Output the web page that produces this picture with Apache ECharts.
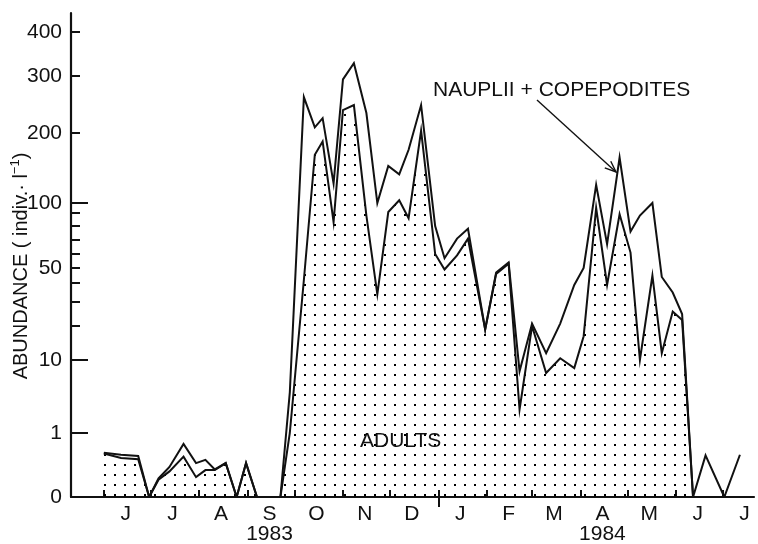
<!DOCTYPE html>
<html>
<head>
<meta charset="utf-8">
<script src="https://cdn.jsdelivr.net/npm/echarts@6/dist/echarts.min.js"></script>
<style>
  html, body { margin: 0; padding: 0; background: #fff; }
  #chart { width: 758px; height: 544px; }
</style>
</head>
<body>
<div id="chart"></div>
<script>
// Sampling dates, June 1983 - July 1984
const sampleDates = [
  '1983-06-01','1983-06-12','1983-06-23','1983-06-30','1983-07-06','1983-07-13','1983-07-22','1983-07-30',
  '1983-08-05','1983-08-11','1983-08-18','1983-08-25','1983-08-31','1983-09-07','1983-09-14','1983-09-22',
  '1983-09-28','1983-10-07','1983-10-14','1983-10-19','1983-10-26','1983-11-01','1983-11-08','1983-11-16',
  '1983-11-23','1983-11-30','1983-12-07','1983-12-13','1983-12-21','1983-12-30','1984-01-05','1984-01-13',
  '1984-01-20','1984-01-31','1984-02-07','1984-02-15','1984-02-22','1984-03-01','1984-03-10','1984-03-19',
  '1984-03-28','1984-04-03','1984-04-11','1984-04-18','1984-04-26','1984-05-03','1984-05-09','1984-05-17',
  '1984-05-23','1984-05-30','1984-06-05','1984-06-12','1984-06-20','1984-07-02','1984-07-12'
];

// Adults + nauplii + copepodites (indiv. per litre)
const totalAbundance = [
  0.69, 0.66, 0.64, 0, 0.29, 0.47, 0.83, 0.53,
  0.58, 0.43, 0.53, 0, 0.53, 0, 0, 0,
  6, 263, 210, 226, 128, 294, 329, 235,
  100, 153, 141, 176, 249, 80, 57, 71,
  78, 19, 47, 54, 8.6, 21, 12, 21,
  39, 50, 126, 67, 165, 76, 88, 100,
  44, 35, 25, 0, 0.65, 0, 0.66
];

// Adults only (indiv. per litre)
const adultAbundance = [
  0.68, 0.61, 0.59, 0, 0.27, 0.40, 0.63, 0.31,
  0.42, 0.42, 0.53, 0, 0.53, 0, 0, 0,
  1.0, 42, 169, 188, 83, 240, 249, 88,
  34, 91, 104, 86, 204, 60, 49, 59,
  71, 19, 46, 53, 3.9, 20, 8.4, 10.5,
  9, 17, 95, 39, 89, 61, 10, 45,
  12, 26, 22.5, 0, 0, 0, 0
];

// Ordinate tick values
const yLabelValues = [0, 1, 10, 50, 100, 200, 300, 400];
const yLongTicks = [1, 10, 100];
const yShortTicks = [20, 30, 40, 50, 60, 70, 80, 90, 200, 300, 400];

// Abscissa labels
const monthLetters = ['J', 'F', 'M', 'A', 'M', 'J', 'J', 'A', 'S', 'O', 'N', 'D'];
const yearUnderMonth = { '1983-8': '1983', '1984-3': '1984' };

// The ordinate is stretched: each break value sits at a fixed height on a 0-484 axis, linear in between
const SCALE_BREAKS = [
  [0, 0], [1, 64], [10, 137], [20, 171], [30, 195], [40, 214], [50, 229], [60, 243],
  [70, 257], [80, 271], [90, 284], [100, 294], [200, 364], [300, 421], [400, 465]
];
const SCALE_TOP = 484;

function toScale(v) {
  for (let i = 1; i < SCALE_BREAKS.length; i++) {
    const [v0, h0] = SCALE_BREAKS[i - 1];
    const [v1, h1] = SCALE_BREAKS[i];
    if (v <= v1 || i === SCALE_BREAKS.length - 1) {
      return h0 + (h1 - h0) * (v - v0) / (v1 - v0);
    }
  }
  return 0;
}

const FONT = '"Liberation Sans", Arial, sans-serif';
const INK = '#111';

const ts = sampleDates.map(d => Date.parse(d));
const xMin = Date.parse('1983-05-11');
const xMax = Date.parse('1984-07-21');

const monthStarts = [];
const monthMids = [];
for (let k = 0; k < 14; k++) {
  const y = 1983 + Math.floor((5 + k) / 12);
  const m = (5 + k) % 12;
  monthStarts.push(Date.UTC(y, m, 1));
  monthMids.push(Date.UTC(y, m, 15));
}
const yearStart = Date.UTC(1984, 0, 1);

const labelKey = {};
yLabelValues.forEach(v => { labelKey[toScale(v).toFixed(3)] = String(v); });

// Stipple used for the adult fraction
const dots = document.createElement('canvas');
dots.width = 10; dots.height = 10;
const dctx = dots.getContext('2d');
dctx.fillStyle = '#000';
dctx.fillRect(4, 4, 2, 2);

const chart = echarts.init(document.getElementById('chart'), null, { renderer: 'canvas' });

// Arrow from the label to the total curve
const arrowFrom = [537, 100];
const arrowTo = [616, 172];
const ang = Math.atan2(arrowTo[1] - arrowFrom[1], arrowTo[0] - arrowFrom[0]);
const headLen = 12, headSpread = 0.38;
const barbA = [arrowTo[0] - headLen * Math.cos(ang - headSpread), arrowTo[1] - headLen * Math.sin(ang - headSpread)];
const barbB = [arrowTo[0] - headLen * Math.cos(ang + headSpread), arrowTo[1] - headLen * Math.sin(ang + headSpread)];

chart.setOption({
  animation: false,
  backgroundColor: '#fff',
  grid: { left: 71, right: 4, top: 13, bottom: 47, containLabel: false, outerBoundsMode: 'none' },
  xAxis: [
    {
      type: 'value', min: xMin, max: xMax,
      axisLine: { show: true, onZero: false, lineStyle: { color: INK, width: 2.2 } },
      axisTick: { show: true, inside: true, length: 7, customValues: monthStarts, lineStyle: { color: INK, width: 2 } },
      axisLabel: {
        show: true, customValues: monthMids, margin: 7,
        color: INK, fontFamily: FONT, fontSize: 21, lineHeight: 20,
        formatter: function (v) {
          const d = new Date(v);
          const key = d.getUTCFullYear() + '-' + d.getUTCMonth();
          const letter = monthLetters[d.getUTCMonth()];
          return yearUnderMonth[key] ? letter + '\n' + yearUnderMonth[key] : letter;
        }
      },
      splitLine: { show: false }
    },
    {
      type: 'value', min: xMin, max: xMax, position: 'bottom',
      axisLine: { show: false },
      axisTick: { show: true, inside: false, length: 10, customValues: [yearStart], lineStyle: { color: INK, width: 2 } },
      axisLabel: { show: false },
      splitLine: { show: false }
    }
  ],
  yAxis: [
    {
      type: 'value', min: 0, max: SCALE_TOP, position: 'left',
      axisLine: { show: true, onZero: false, lineStyle: { color: INK, width: 2.2 } },
      axisTick: { show: true, inside: true, length: 9, customValues: yShortTicks.map(toScale), lineStyle: { color: INK, width: 2 } },
      axisLabel: {
        show: true, customValues: yLabelValues.map(toScale), margin: 9,
        color: INK, fontFamily: FONT, fontSize: 21,
        formatter: function (v) { return labelKey[v.toFixed(3)] || ''; }
      },
      splitLine: { show: false }
    },
    {
      type: 'value', min: 0, max: SCALE_TOP, position: 'left',
      axisLine: { show: false },
      axisTick: { show: true, inside: true, length: 17, customValues: yLongTicks.map(toScale), lineStyle: { color: INK, width: 2 } },
      axisLabel: { show: false },
      splitLine: { show: false }
    }
  ],
  series: [
    {
      name: 'Adults', type: 'line', xAxisIndex: 0, yAxisIndex: 0,
      data: adultAbundance.map((v, i) => [ts[i], toScale(v)]),
      symbol: 'none', silent: true, z: 3,
      lineStyle: { color: INK, width: 2, join: 'miter' },
      areaStyle: { color: { image: dots, repeat: 'repeat' }, opacity: 1 }
    },
    {
      name: 'Nauplii + copepodites', type: 'line', xAxisIndex: 0, yAxisIndex: 0,
      data: totalAbundance.map((v, i) => [ts[i], toScale(v)]),
      symbol: 'none', silent: true, z: 4,
      lineStyle: { color: INK, width: 2, join: 'miter' }
    }
  ],
  graphic: [
    {
      type: 'text', x: 21, y: 266, rotation: Math.PI / 2, z: 10,
      style: {
        text: 'ABUNDANCE ( indiv.· l{s|−1})',
        font: '20px ' + FONT, fill: INK,
        align: 'center', verticalAlign: 'middle',
        textAlign: 'center', textVerticalAlign: 'middle',
        rich: { s: { fontSize: 13, fontFamily: FONT, fill: INK, padding: [0, 0, 11, 0] } }
      }
    },
    {
      type: 'text', x: 433, y: 90, z: 10,
      style: {
        text: 'NAUPLII + COPEPODITES', font: '21px ' + FONT, fill: INK,
        align: 'left', verticalAlign: 'middle', textAlign: 'left', textVerticalAlign: 'middle'
      }
    },
    {
      type: 'text', x: 360, y: 441, z: 10,
      style: {
        text: 'ADULTS', font: '21px ' + FONT, fill: INK,
        align: 'left', verticalAlign: 'middle', textAlign: 'left', textVerticalAlign: 'middle'
      }
    },
    {
      type: 'line', z: 10,
      shape: { x1: arrowFrom[0], y1: arrowFrom[1], x2: arrowTo[0], y2: arrowTo[1] },
      style: { stroke: INK, lineWidth: 1.4 }
    },
    {
      type: 'polyline', z: 10,
      shape: { points: [barbA, arrowTo, barbB] },
      style: { stroke: INK, lineWidth: 1.4, fill: null }
    }
  ]
});
</script>
</body>
</html>
